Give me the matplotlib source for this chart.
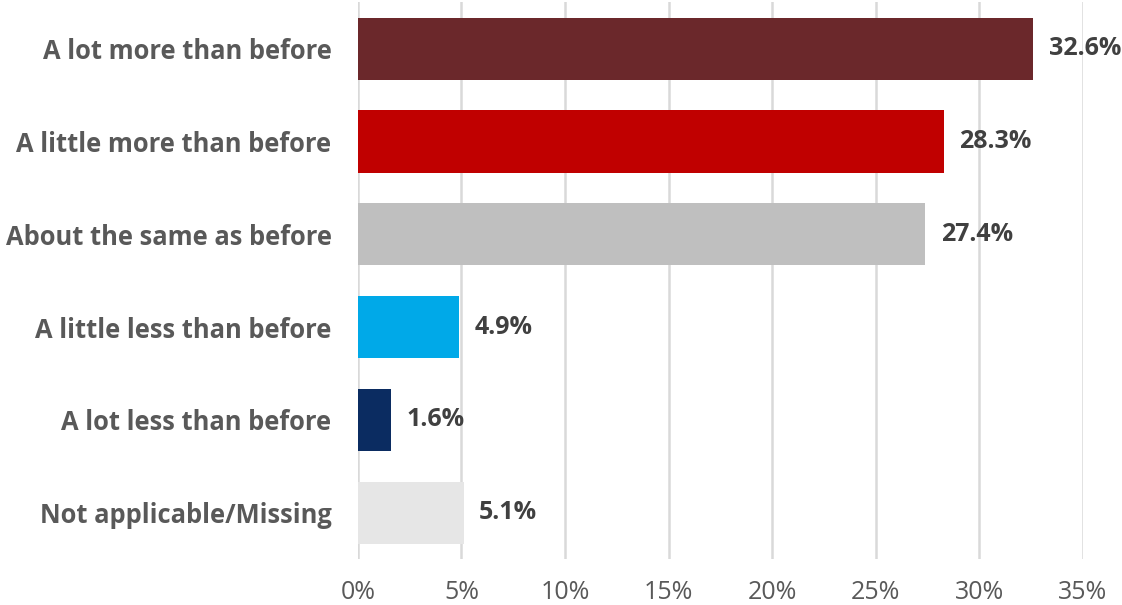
import matplotlib
matplotlib.use("Agg")
import matplotlib.pyplot as plt
from matplotlib.ticker import FuncFormatter

categories = [
    "A lot more than before",
    "A little more than before",
    "About the same as before",
    "A little less than before",
    "A lot less than before",
    "Not applicable/Missing",
]
values = [32.6, 28.3, 27.4, 4.9, 1.6, 5.1]
colors = ["#6B282B", "#C00000", "#BFBFBF", "#00A9E8", "#0B2C61", "#E6E6E6"]
xticks = [0, 5, 10, 15, 20, 25, 30, 35]

plt.rcParams["font.family"] = ["Open Sans", "DejaVu Sans"]

fig = plt.figure(figsize=(11.22, 6.05), dpi=100)
ax = fig.add_axes([0.319, 0.076, 0.646, 0.92])

y = list(range(len(categories)))
ax.barh(y, values, height=0.67, color=colors, zorder=3)
ax.set_ylim(len(categories) - 0.5, -0.5)
ax.set_xlim(0, 35)

ax.set_xticks(xticks)
ax.xaxis.set_major_formatter(FuncFormatter(lambda v, p: f"{v:.0f}%"))
ax.tick_params(axis="x", length=0, pad=15, labelsize=18, labelcolor="#595959")
ax.set_yticks(y)
ax.set_yticklabels(categories, fontsize=18.4, fontweight="bold", color="#595959")
ax.tick_params(axis="y", length=0, pad=19)

ax.grid(axis="x", color="#D9D9D9", linewidth=1.8, zorder=0)
for s in ax.spines.values():
    s.set_visible(False)

for yi, v in zip(y, values):
    ax.text(v + 0.75, yi, f"{v:.1f}%", va="center", ha="left",
            fontsize=18, fontweight="bold", color="#404040")

fig.savefig("out.png", dpi=100)
